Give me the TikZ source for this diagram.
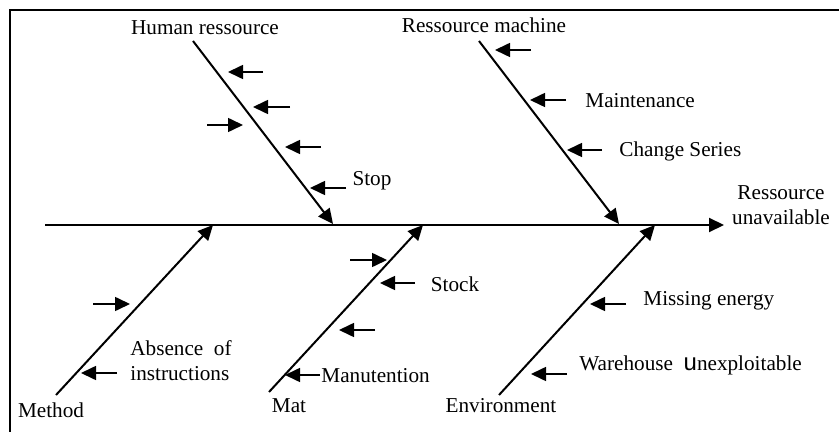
\documentclass[tikz,border=0pt]{standalone}
\usepackage{fontspec}
\setmainfont{Liberation Serif}
\usetikzlibrary{arrows.meta}
\begin{document}
\begin{tikzpicture}[x=0.5pt,y=-0.5pt,
  spine/.style={line width=1pt,-{Triangle[length=7.5pt,width=7pt]}},
  bone/.style={line width=1pt,-{Triangle[length=7.5pt,width=7pt]}},
  cause/.style={line width=0.8pt,-{Triangle[length=7.5pt,width=7pt]}},
  lbl/.style={inner sep=0pt,font=\fontsize{10.6pt}{12.5pt}\selectfont}]
\useasboundingbox (0,0) rectangle (839,432);
\clip (0,0) rectangle (839,432);
% open frame
\draw[line width=1pt] (10,480) -- (10,10) -- (900,10);

% main spine and effect
\coordinate (sTail) at (45,225);
\coordinate (sHead) at (724,225);
\draw[spine] (sTail) -- (sHead);
\node[lbl,align=center] (effect) at (781,205) {Ressource\\unavailable};

% --- Human ressource ---
\coordinate (hrA) at (193,41);
\coordinate (hrB) at (333,224);
\draw[bone] (hrA) -- (hrB);
\node[lbl] (hr) at (205,28) {Human ressource};
\coordinate (h1a) at (263,72);  \coordinate (h1b) at (228,72);
\coordinate (h2a) at (290,107); \coordinate (h2b) at (253,107);
\coordinate (h3a) at (207,125); \coordinate (h3b) at (243,125);
\coordinate (h4a) at (321,147); \coordinate (h4b) at (285,147);
\coordinate (h5a) at (346,188); \coordinate (h5b) at (310,188);
\draw[cause] (h1a) -- (h1b);
\draw[cause] (h2a) -- (h2b);
\draw[cause] (h3a) -- (h3b);
\draw[cause] (h4a) -- (h4b);
\draw[cause] (h5a) -- (h5b);
\node[lbl] (stop) at (372,181) {Stop};

% --- Ressource machine ---
\coordinate (rmA) at (479,41);
\coordinate (rmB) at (619,224);
\draw[bone] (rmA) -- (rmB);
\node[lbl] (rm) at (484,25) {Ressource machine};
\coordinate (m1a) at (531,50);  \coordinate (m1b) at (495,50);
\coordinate (m2a) at (566,100); \coordinate (m2b) at (530,100);
\coordinate (m3a) at (602,150); \coordinate (m3b) at (567,150);
\draw[cause] (m1a) -- (m1b);
\draw[cause] (m2a) -- (m2b);
\draw[cause] (m3a) -- (m3b);
\node[lbl,anchor=west] (maint) at (585,101) {Maintenance};
\node[lbl,anchor=west] (chg) at (619,151) {Change Series};

% --- Method ---
\coordinate (meA) at (56,395);
\coordinate (meB) at (213,225);
\draw[bone] (meA) -- (meB);
\node[lbl] (method) at (51,410) {Method};
\coordinate (e1a) at (93,304);  \coordinate (e1b) at (130,304);
\coordinate (e2a) at (117,373); \coordinate (e2b) at (81,373);
\draw[cause] (e1a) -- (e1b);
\draw[cause] (e2a) -- (e2b);
\node[lbl,anchor=west,align=left] (absence) at (130,361) {Absence~~of\\instructions};

% --- Mat ---
\coordinate (maA) at (269,392);
\coordinate (maB) at (423,225);
\draw[bone] (maA) -- (maB);
\node[lbl] (mat) at (289,406) {Mat};
\coordinate (t1a) at (350,260); \coordinate (t1b) at (387,260);
\coordinate (t2a) at (415,283); \coordinate (t2b) at (380,283);
\coordinate (t3a) at (375,330); \coordinate (t3b) at (339,330);
\coordinate (t4a) at (320,375); \coordinate (t4b) at (285,375);
\draw[cause] (t1a) -- (t1b);
\draw[cause] (t2a) -- (t2b);
\draw[cause] (t3a) -- (t3b);
\draw[cause] (t4a) -- (t4b);
\node[lbl] (stock) at (455,284) {Stock};
\node[lbl,anchor=west] (manut) at (321,376) {Manutention};

% --- Environment ---
\coordinate (enA) at (499,395);
\coordinate (enB) at (655,225);
\draw[bone] (enA) -- (enB);
\node[lbl] (env) at (501,406) {Environment};
\coordinate (v1a) at (626,304); \coordinate (v1b) at (590,304);
\coordinate (v2a) at (567,374); \coordinate (v2b) at (531,374);
\draw[cause] (v1a) -- (v1b);
\draw[cause] (v2a) -- (v2b);
\node[lbl,anchor=west] (energy) at (643,301) {Missing energy};
\node[lbl,anchor=west] (wh) at (579,365) {Warehouse~~{\fontspec{Liberation Sans}\fontsize{12pt}{12.5pt}\selectfont u}nexploitable};
\end{tikzpicture}
\end{document}
